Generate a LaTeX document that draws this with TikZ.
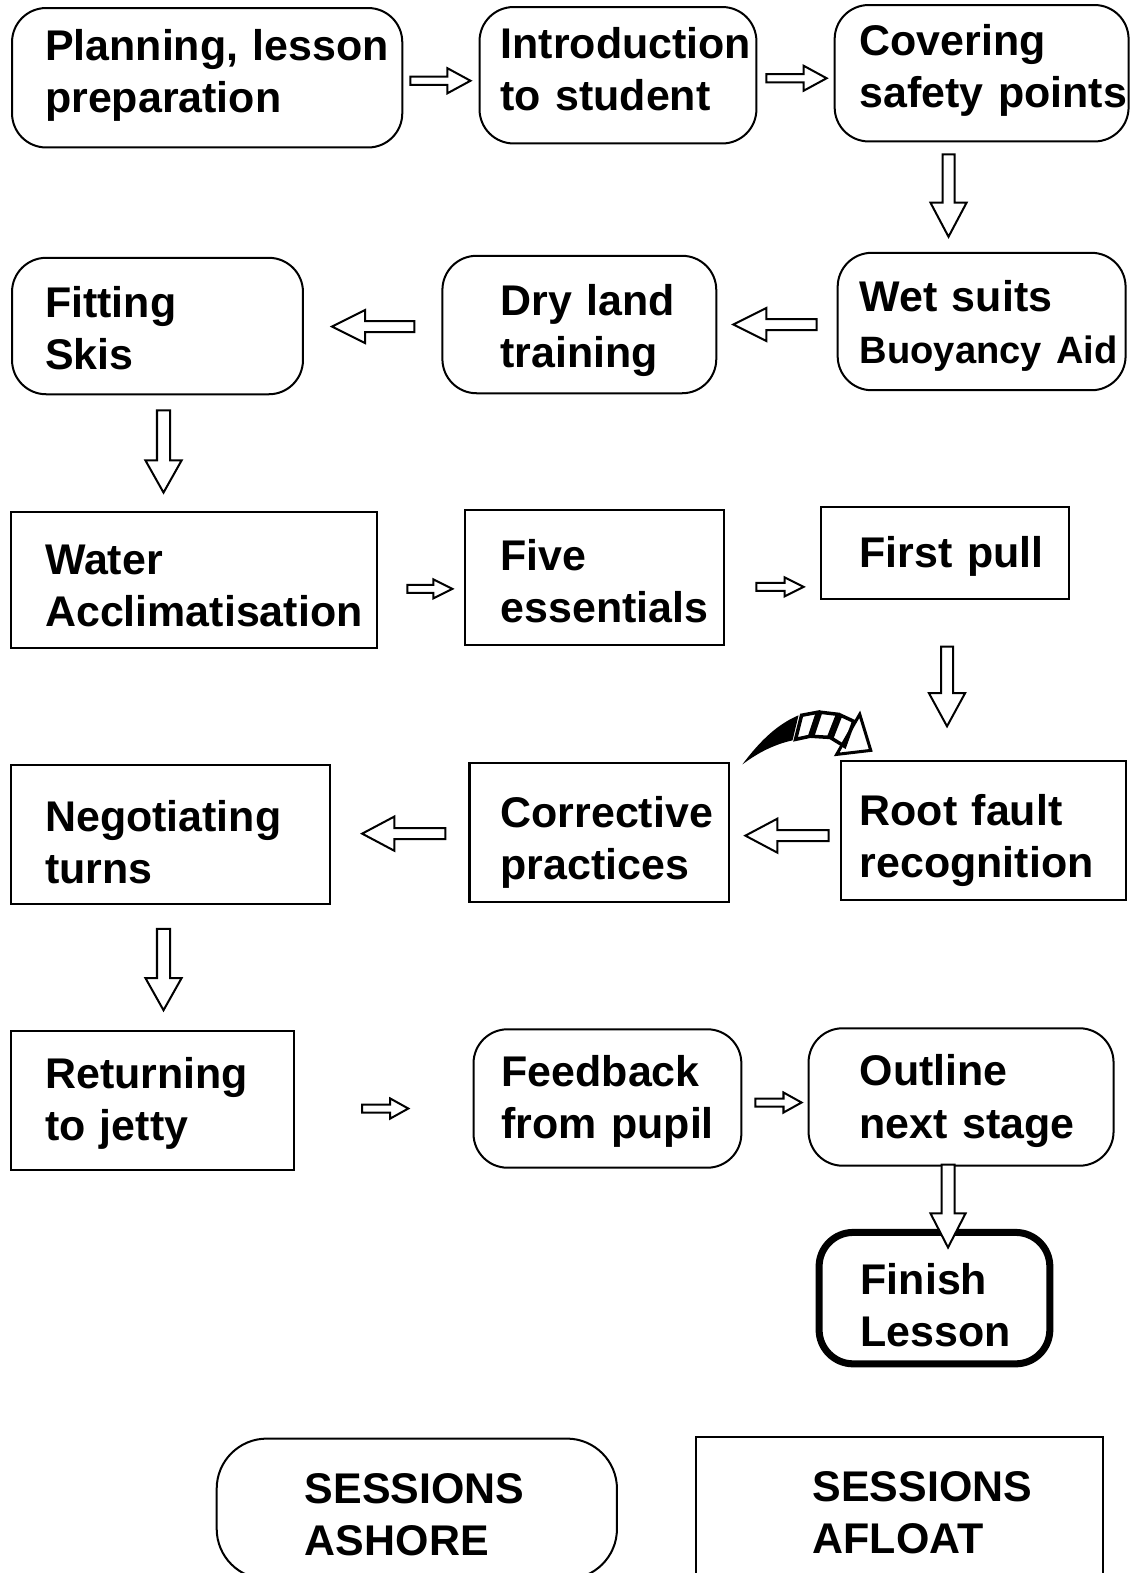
\documentclass[tikz,border=0pt]{standalone}
\usepackage{fontspec}
\setmainfont{Liberation Sans}
\usetikzlibrary{calc}
\newcommand\bigfont{\fontsize{42.8}{52}\selectfont\bfseries}
\newcommand\midfont{\fontsize{38}{52}\selectfont\bfseries}
\newcommand\drawblock[3]{%
  \coordinate (bh) at ($(bb)!#3!(ba)$);
  \draw[blockarrow] ($(ba)!#1!90:(bb)$) -- ($(bh)!#1!90:(bb)$) -- ($(bh)!#2!90:(bb)$) -- (bb)
     -- ($(bh)!#2!-90:(bb)$) -- ($(bh)!#1!-90:(bb)$) -- ($(ba)!#1!-90:(bb)$) -- cycle;}
\newcommand\hblock[5]{%
  \coordinate (ba) at #1; \coordinate (bq) at #2; \coordinate (bb) at (ba -| bq);
  \drawblock{#3}{#4}{#5}}
\newcommand\vblock[5]{%
  \coordinate (ba) at #1; \coordinate (bq) at #2; \coordinate (bb) at (ba |- bq);
  \drawblock{#3}{#4}{#5}}
\tikzset{
  basebox/.style={draw, line width=2pt, align=left, font=\bigfont, inner ysep=0pt},
  rbox/.style={basebox, rounded corners=34pt},
  sbox/.style={basebox},
  fbox/.style={basebox, rounded corners=34pt, line width=7pt},
  dims/.style n args={3}{minimum width=#1pt, minimum height=#2pt, inner xsep=#3pt, text width=#1pt-2*#3pt},
  tshift/.style={text height=31pt+#1pt, text depth=61pt-#1pt},
  blockarrow/.style={draw, fill=white, line width=2pt, line join=miter},
}
\begin{document}
\begin{tikzpicture}[x=1pt,y=-1pt]
\useasboundingbox (0,0) rectangle (1127,1568);
\clip (0,0) rectangle (1127,1568);
\fill[white] (0,0) rectangle (1127,1568);
% row 1
\node[rbox, dims={389}{139}{33}, tshift=-2] (plan) at (206.5,77.5) {\mbox{Planning, lesson}\\\mbox{preparation}};
\node[rbox, dims={276}{136}{21}, tshift=-1.5] (intro) at (616,75) {\mbox{Introduction}\\\mbox{to student}};
\node[rbox, dims={293}{136}{25}, tshift=-3] (cover) at (978.5,73) {\mbox{Covering}\\\mbox{safety points}};
% row 2
\node[rbox, dims={290}{136}{33}, tshift=6.5] (fit) at (157,325) {\mbox{Fitting}\\\mbox{Skis}};
\node[rbox, dims={273}{137}{58}, tshift=6] (dry) at (577.5,323.5) {\mbox{Dry land}\\\mbox{training}};
\node[rbox, dims={287}{137}{22}, tshift=4.75] (wet) at (978.5,320.5) {\mbox{Wet suits}\\\mbox{\midfont Buoyancy Aid}};
% row 3
\node[sbox, dims={365}{136}{34}, tshift=9.5] (water) at (193.5,578) {\mbox{Water}\\\mbox{Acclimatisation}};
\node[sbox, dims={258}{135}{35}, tshift=8.5] (five) at (593,575.5) {\mbox{Five}\\\mbox{essentials}};
\node[sbox, dims={248}{89}{39}, tshift=29] (first) at (942,551.5) {\mbox{First pull}};
% row 4
\node[sbox, dims={318}{138}{34}, tshift=11.5] (neg) at (170,832) {\mbox{Negotiating}\\\mbox{turns}};
\node[sbox, dims={259}{138}{31}, tshift=10] (corr) at (597.5,830) {\mbox{Corrective}\\\mbox{practices}};
\node[sbox, dims={284}{138}{19}, tshift=10] (root) at (980,828) {\mbox{Root fault}\\\mbox{recognition}};
% row 5
\node[sbox, dims={282}{138}{34}, tshift=3] (ret) at (152,1097) {\mbox{Returning}\\\mbox{to jetty}};
\node[rbox, dims={267}{138}{28}, tshift=3] (feed) at (605.5,1095) {\mbox{Feedback}\\\mbox{from pupil}};
\node[rbox, dims={304}{137}{51}, tshift=4] (outline) at (958,1093.5) {\mbox{Outline}\\\mbox{next stage}};
\node[fbox, dims={230}{131}{41.5}, tshift=11.5] (finish) at (931.5,1294) {\mbox{Finish}\\\mbox{Lesson}};
% legend
\node[rbox, rounded corners=50pt, dims={399}{140}{88}, tshift=9.5] (ashore) at (415.5,1504) {\mbox{SESSIONS}\\\mbox{ASHORE}};
\node[sbox, dims={405}{140}{116}, tshift=9.5] (afloat) at (896.5,1502) {\mbox{SESSIONS}\\\mbox{AFLOAT}};
% arrows
\hblock{($(plan.east)+(7,3)$)}{($(intro.west)+(-8,0)$)}{4pt}{12.5pt}{23pt}
\hblock{($(intro.east)+(9,3)$)}{($(cover.west)+(-7,0)$)}{4pt}{12.5pt}{23pt}
\vblock{($(cover.south)+(-33,12)$)}{($(wet.north)+(0,-15)$)}{6pt}{18pt}{34pt}
\hblock{($(wet.west)+(-20,3)$)}{($(dry.east)+(16,0)$)}{5.5pt}{16.5pt}{33pt}
\hblock{($(dry.west)+(-27,2)$)}{($(fit.east)+(28,0)$)}{5.5pt}{16.5pt}{33pt}
\vblock{($(fit.south)+(6,15)$)}{($(water.north)+(0,-18)$)}{6.5pt}{18pt}{32pt}
\hblock{($(water.east)+(29,9)$)}{($(five.west)+(-12,0)$)}{4pt}{9.5pt}{19pt}
\hblock{($(five.east)+(31,9.5)$)}{($(first.west)+(-16,0)$)}{4pt}{9.5pt}{19pt}
\vblock{($(first.south)+(2,46)$)}{($(root.north)+(0,-34)$)}{6pt}{18pt}{33pt}
\hblock{($(root.west)+(-11,5)$)}{($(corr.east)+(15,0)$)}{5.5pt}{17pt}{32pt}
\hblock{($(corr.west)+(-23,1)$)}{($(neg.east)+(31,0)$)}{5.5pt}{17pt}{32pt}
\vblock{($(neg.south)+(-7,24)$)}{($(ret.north)+(0,-20)$)}{6.5pt}{18pt}{32pt}
\hblock{($(ret.east)+(67,8)$)}{($(feed.west)+(-64,0)$)}{4pt}{10pt}{18pt}
\hblock{($(feed.east)+(13,4)$)}{($(outline.west)+(-6,0)$)}{4pt}{10pt}{18pt}
\vblock{($(outline.south)+(-13,-2)$)}{($(finish.north)+(0,18.5)$)}{6.5pt}{17.5pt}{34pt}
% curved decorative arrow
\fill (740,762) .. controls (758,738) and (775,722) .. (796,713) -- (790,738) .. controls (772,742) and (756,750) .. cycle;
\begin{scope}[line width=3.5pt, line join=miter]
\draw (799,713) -- (815,710) -- (807,734) -- (793,737) -- cycle;
\draw (818,710) -- (835,712) -- (826,735) -- (810,734) -- cycle;
\draw (838,713) -- (851,719) -- (842,744) -- (829,736) -- cycle;
\draw[line width=3pt] (857,712) -- (868,748) -- (834,752) -- cycle;
\end{scope}
\end{tikzpicture}
\end{document}
